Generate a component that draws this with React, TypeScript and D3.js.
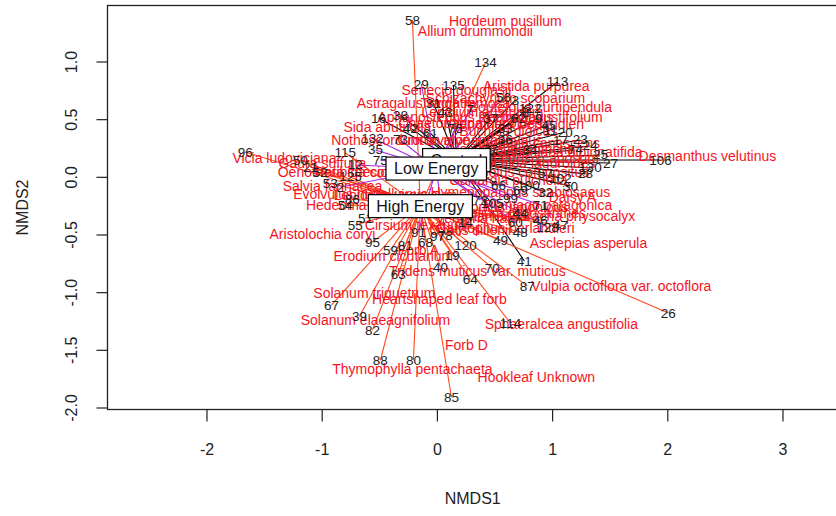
import React from "react";
import * as d3 from "d3";

// ---------- data ----------
const groupNames = ["Control", "Low Energy", "High Energy"];
const centroidX = [0.165, -0.01, -0.148];
const centroidY = [0.15, 0.076, -0.25];

const siteIds = [
  // High Energy
  "58", "134", "96", "115", "21", "125", "86", "51", "95", "67", "39", "82", "88", "80", "85",
  "114", "87", "70", "26", "40", "120", "81", "68", "19", "97", "14", "44",
  "46", "47", "48", "49", "50", "52", "53", "54", "55", "59", "63", "64",
  // Control
  "113", "106", "41", "100", "57", "66", "105", "122", "62", "33", "45", "17", "74", "130",
  "102", "135", "31", "61", "16",
  "3", "8", "9", "11", "20", "23", "24", "25", "27", "28", "30", "32", "34", "36", "37", "38", "42", "43",
  // Low Energy
  "29", "56", "128", "35", "2", "91", "60", "7", "132", "99", "12",
  "69", "71", "72", "73", "75", "76", "77", "78",
];
const siteGroup = [
  2, 2, 2, 2, 2, 2, 2, 2, 2, 2, 2, 2, 2, 2, 2,
  2, 2, 2, 2, 2, 2, 2, 2, 2, 2, 2, 2,
  2, 2, 2, 2, 2, 2, 2, 2, 2, 2, 2, 2,
  0, 0, 0, 0, 0, 0, 0, 0, 0, 0, 0, 0, 0, 0,
  0, 0, 0, 0, 0,
  0, 0, 0, 0, 0, 0, 0, 0, 0, 0, 0, 0, 0, 0, 0, 0, 0, 0,
  1, 1, 1, 1, 1, 1, 1, 1, 1, 1, 1,
  1, 1, 1, 1, 1, 1, 1, 1,
];
const siteX = [
  -0.217, 0.417, -1.667, -0.799, -1.102, -0.755, -0.738, -0.625, -0.564, -0.92, -0.677, -0.564, -0.495, -0.208, 0.122,
  0.634, 0.781, 0.477, 2.005, 0.026, 0.243, -0.278, -0.104, 0.13, 0.0, 0.243, 0.72,
  0.894, 1.068, 0.72, 0.547, -1.189, -1.016, -0.929, -0.799, -0.712, -0.408, -0.339, 0.286,
  1.042, 1.936, 0.755, 0.79, 0.938, 0.53, 0.477, 0.807, 0.703, 0.59, 0.964, 1.068, 1.198, 1.328,
  1.068, 0.139, -0.035, -0.061, -0.512,
  0.677, 0.764, 0.877, 0.981, 1.111, 1.241, 1.328, 1.415, 1.502, 1.285, 1.155, 0.938, 0.807, 0.59, 0.46, -0.321, -0.234, 0.069,
  -0.139, 0.573, 0.955, -0.538, -0.842, -0.165, 0.677, 0.286, -0.564, 0.634, -0.712,
  0.72, 0.894, 0.373, -0.321, -0.495, 0.156, 0.46, 0.069,
];
const siteY = [
  1.364, 0.992, 0.219, 0.211, 0.089, 0.003, -0.188, -0.353, -0.561, -1.108, -1.204, -1.325, -1.586, -1.586, -1.907,
  -1.264, -0.943, -0.787, -1.177, -0.778, -0.588, -0.588, -0.561, -0.674, -0.509, -0.388, -0.31,
  -0.371, -0.414, -0.475, -0.544, 0.15, 0.046, -0.05, -0.241, -0.414, -0.631, -0.844, -0.887,
  0.827, 0.15, -0.726, -0.067, 0.037, -0.067, -0.231, 0.601, 0.514, 0.427, 0.453, 0.323, 0.237, 0.081,
  -0.006, 0.8, 0.644, 0.384, 0.514,
  0.67, 0.566, 0.514, 0.41, 0.393, 0.324, 0.272, 0.194, 0.124, 0.03, -0.076, -0.128, 0.237, 0.324, 0.514, 0.54, 0.427, 0.566,
  0.809, 0.688, -0.431, 0.237, -0.084, -0.474, -0.388, 0.584, 0.34, -0.18, 0.107,
  -0.11, -0.24, -0.197, 0.324, 0.15, 0.427, 0.237, -0.5,
];

const speciesNames = [
  "Hordeum pusillum", "Allium drummondii", "Aristida purpurea", "Senecio douglasii",
  "Astragalus wrightii", "Tragia ramosa", "Bouteloua curtipendula", "Aphanostephus skirrhobasis",
  "Pectis angustifolium", "Oenothera berlandieri", "Buchloe dioicus", "Sida abutifolia",
  "Verbena canescens", "Glandularia bipinnatifida", "Desmanthus velutinus", "Tetraneuris scaposum",
  "Daisy A", "Chamaesaracha physocalyx", "Asclepias asperula", "Aristolochia coryi",
  "Cirsium texanum", "Erodium cicutarium", "Forb A", "Tridens muticus var. muticus",
  "Vulpia octoflora var. octoflora", "Solanum triquetrum", "Heartshaped leaf forb", "Solanum elaeagnifolium",
  "Sphaeralcea angustifolia", "Forb D", "Thymophylla pentachaeta", "Hookleaf Unknown",
  "Vicia ludoviciana", "Gaura suffulta", "Salvia farinacea", "Ratibida columnifera",
  "Evolvulus nuttallianus", "Nothoscordum bivalve", "Lepidium austrinum", "Chaetopappa ericoides",
  "Nassella leucotricha", "Bothriochloa laguroides", "Sporobolus compositus", "Gaillardia pulchella",
  "Bromus japonicus", "Verbena halei", "Dichanthelium oligosanthes", "Oxalis dillenii",
  "Hedeoma reverchonii", "Schizachyrium scoparium", "Croton monanthogynus", "Hymenopappus scabiosaeus",
  "Plantago patagonica", "Calylophus berlandieri", "Oenothera speciosa", "Lepidium virginicum",
];
const speciesX = [
  0.59, 0.33, 0.859, 0.165,
  -0.208, 0.243, 0.894, 0.243,
  0.894, 0.686, 0.616, -0.434,
  0.877, 1.128, 2.344, 0.807,
  1.172, 0.955, 1.311, -0.998,
  -0.174, -0.382, -0.165, 0.347,
  1.597, -0.547, 0.017, -0.538,
  1.076, 0.252, -0.217, 0.859,
  -1.328, -0.998, -0.911, -0.512,
  -0.668, -0.321, 0.391, 0.286,
  0.651, 0.738, 0.686, 0.616,
  0.651, 0.356, 0.547, 0.286,
  -0.564, 0.59, 0.286, 0.72,
  0.964, 0.59, -0.842, -0.365,
];
const speciesY = [
  1.356, 1.269, 0.792, 0.757,
  0.644, 0.644, 0.609, 0.522,
  0.522, 0.462, 0.401, 0.436,
  0.297, 0.219, 0.184, 0.167,
  -0.171, -0.336, -0.57, -0.492,
  -0.414, -0.683, -0.631, -0.813,
  -0.943, -1.004, -1.056, -1.239,
  -1.274, -1.456, -1.664, -1.734,
  0.167, 0.124, -0.076, 0.046,
  -0.145, 0.323, 0.566, 0.471,
  0.245, 0.124, 0.046, -0.023,
  -0.258, -0.353, -0.31, -0.457,
  -0.241, 0.687, 0.324, -0.128,
  -0.24, -0.44, 0.046, -0.154,
];

const xTicks = [-2, -1, 0, 1, 2, 3];
const yTicks = [-2, -1.5, -1, -0.5, 0, 0.5, 1];

// ---------- styles ----------
const FONT = "'Liberation Sans', Arial, sans-serif";
const groupColors = ["#000000", "#A52AE6", "#FF4A1A"];
const drawOrder = [0, 2, 1];

function measure(text: string, size: number) {
  const c = document.createElement("canvas").getContext("2d");
  if (!c) return text.length * size * 0.55;
  c.font = `${size}px 'Liberation Sans', Arial, sans-serif`;
  return c.measureText(text).width;
}

export default function App() {
  const W = 836;
  const H = 516;
  const left = 107.5;
  const right = 838;
  const top = 5.5;
  const bottom = 409.5;

  const x = d3.scaleLinear().domain([-2, 3]).range([207, 783]);
  const y = d3.scaleLinear().domain([-2, 1]).range([408, 62]);

  const sites = siteIds.map((id, i) => ({ id, g: siteGroup[i], x: siteX[i], y: siteY[i] }));
  const species = speciesNames.map((n, i) => ({ n, x: speciesX[i], y: speciesY[i] }));

  return (
    <svg
      width={W}
      height={H}
      style={{ position: "absolute", left: 0, top: 0, background: "#fff" }}
      fontFamily={FONT}
    >
      <defs>
        <clipPath id="plotclip">
          <rect x={left} y={top} width={right - left} height={bottom - top} />
        </clipPath>
      </defs>
      <rect x={0} y={0} width={W} height={H} fill="#fff" />

      <g clipPath="url(#plotclip)">
        {/* spider segments */}
        {drawOrder.map((g) => (
          <g key={g} stroke={groupColors[g]} strokeWidth={1.1}>
            {sites
              .filter((s) => s.g === g)
              .map((s) => (
                <line
                  key={s.id}
                  x1={x(centroidX[g])}
                  y1={y(centroidY[g])}
                  x2={x(s.x)}
                  y2={y(s.y)}
                />
              ))}
          </g>
        ))}

        {/* species labels */}
        <g fill="#F5141E" fontSize={14} textAnchor="middle" dominantBaseline="central">
          {species.map((s) => (
            <text key={s.n} x={x(s.x)} y={y(s.y)}>
              {s.n}
            </text>
          ))}
        </g>

        {/* site labels */}
        <g fill="#222" fontSize={13.5} textAnchor="middle" dominantBaseline="central">
          {sites.map((s) => (
            <text key={s.id} x={x(s.x)} y={y(s.y)}>
              {s.id}
            </text>
          ))}
        </g>

        {/* group centroid labels */}
        {groupNames.map((name, g) => {
          const tw = measure(name, 16);
          const bw = tw + 16;
          const bh = 23;
          const cx = x(centroidX[g]);
          const cy = y(centroidY[g]);
          return (
            <g key={name}>
              <rect
                x={cx - bw / 2}
                y={cy - bh / 2}
                width={bw}
                height={bh}
                fill="#fff"
                stroke="#000"
                strokeWidth={1.2}
              />
              <text
                x={cx}
                y={cy}
                fontSize={16}
                textAnchor="middle"
                dominantBaseline="central"
                fill="#111"
              >
                {name}
              </text>
            </g>
          );
        })}
      </g>

      {/* frame */}
      <rect
        x={left}
        y={top}
        width={right - left}
        height={bottom - top}
        fill="none"
        stroke="#222"
        strokeWidth={1.3}
      />

      {/* x axis */}
      <g>
        {xTicks.map((t) => (
          <g key={t}>
            <line x1={x(t)} x2={x(t)} y1={bottom} y2={bottom + 12} stroke="#222" strokeWidth={1.2} />
            <text
              x={x(t)}
              y={449}
              fontSize={16}
              textAnchor="middle"
              dominantBaseline="central"
              fill="#222"
            >
              {`${t}`}
            </text>
          </g>
        ))}
        <text
          x={(left + right) / 2}
          y={498}
          fontSize={16}
          textAnchor="middle"
          dominantBaseline="central"
          fill="#222"
        >
          NMDS1
        </text>
      </g>

      {/* y axis */}
      <g>
        {yTicks.map((t) => (
          <g key={t}>
            <line x1={left - 11} x2={left} y1={y(t)} y2={y(t)} stroke="#222" strokeWidth={1.2} />
            <text
              transform={`translate(71,${y(t)}) rotate(-90)`}
              fontSize={16}
              textAnchor="middle"
              dominantBaseline="central"
              fill="#222"
            >
              {t.toFixed(1)}
            </text>
          </g>
        ))}
        <text
          transform={`translate(22,${(top + bottom) / 2}) rotate(-90)`}
          fontSize={16}
          textAnchor="middle"
          dominantBaseline="central"
          fill="#222"
        >
          NMDS2
        </text>
      </g>
    </svg>
  );
}
